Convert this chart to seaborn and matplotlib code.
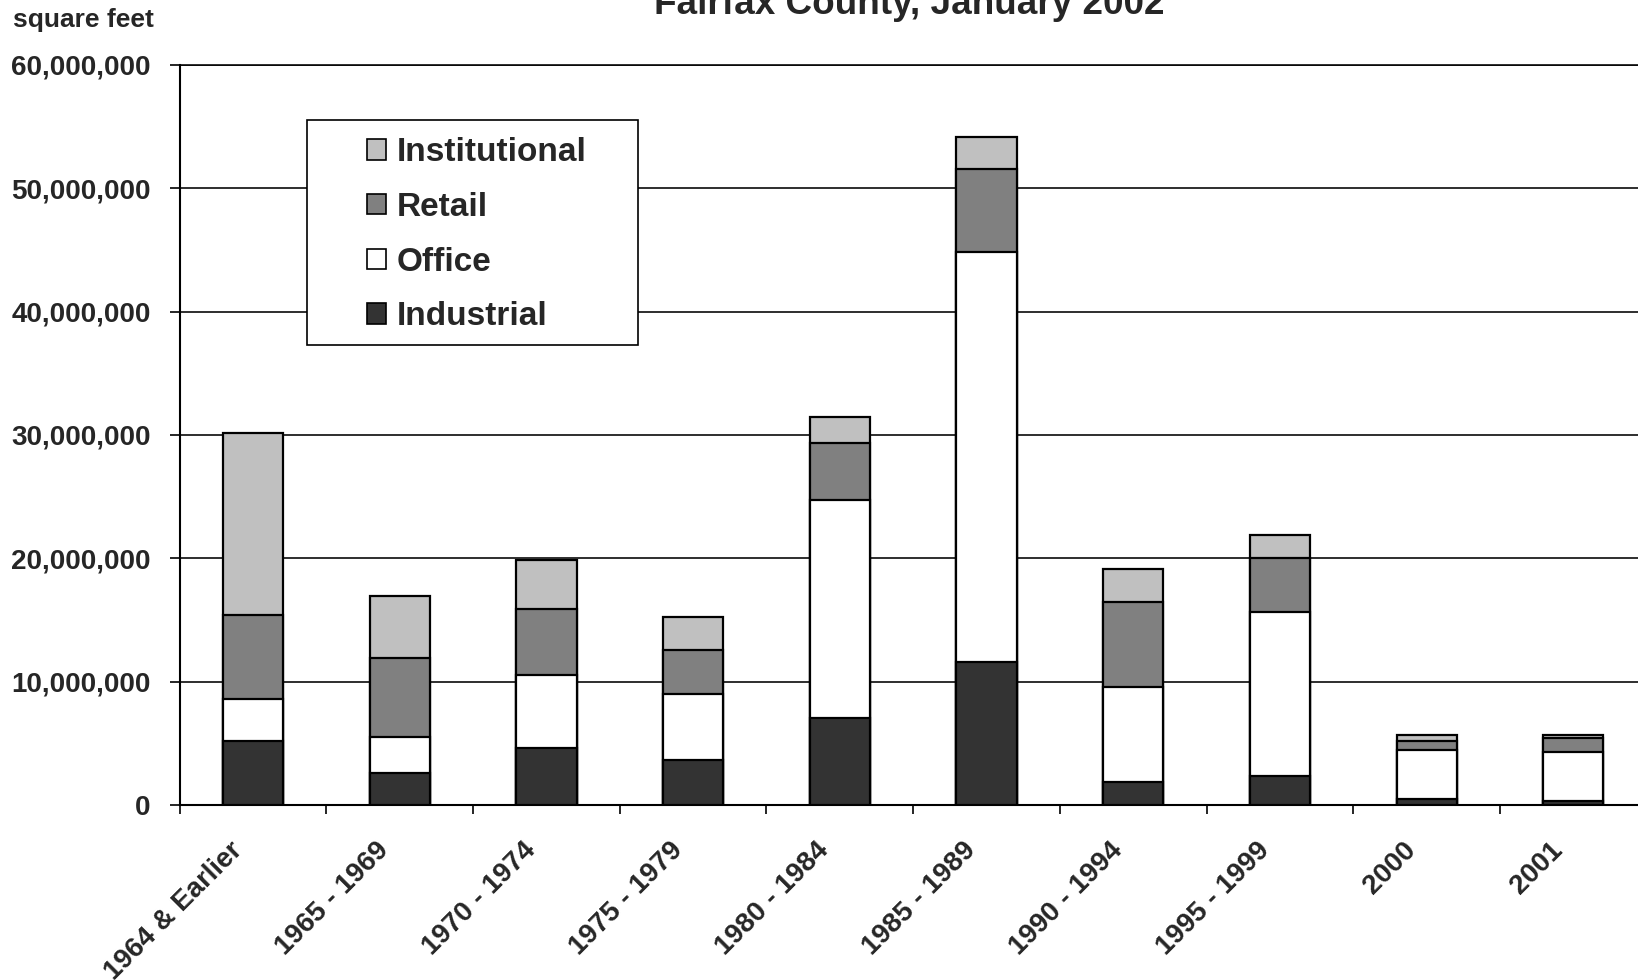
import numpy as np
import pandas as pd
import matplotlib
matplotlib.use("Agg")
import matplotlib.pyplot as plt
from matplotlib.patches import Patch, Rectangle
from matplotlib.ticker import FuncFormatter, FixedLocator
import seaborn as sns

# Non-residential floor area by year built (square feet)
periods = ["1964 & Earlier", "1965 - 1969", "1970 - 1974", "1975 - 1979",
           "1980 - 1984", "1985 - 1989", "1990 - 1994", "1995 - 1999",
           "2000", "2001"]
industrial = [5_190_000, 2_570_000, 4_650_000, 3_620_000, 7_060_000,
              11_560_000, 1_840_000, 2_380_000, 490_000, 350_000]
office = [3_410_000, 2_920_000, 5_870_000, 5_360_000, 17_640_000,
          33_240_000, 7_750_000, 13_270_000, 4_000_000, 3_950_000]
retail = [6_780_000, 6_430_000, 5_380_000, 3_590_000, 4_670_000,
          6_730_000, 6_900_000, 4_350_000, 700_000, 1_160_000]
institutional = [14_820_000, 5_010_000, 3_970_000, 2_650_000, 2_100_000,
                 2_610_000, 2_650_000, 1_920_000, 490_000, 240_000]

series_names = ["Industrial", "Office", "Retail", "Institutional"]
series_values = [industrial, office, retail, institutional]
series_colors = {"Industrial": "#333333", "Office": "#ffffff",
                 "Retail": "#808080", "Institutional": "#c0c0c0"}

title_text = "Fairfax County, January 2002"
unit_text = "square feet"

sns.set_style("white")
plt.rcParams["font.family"] = ["Liberation Sans", "DejaVu Sans"]
plt.rcParams["font.weight"] = "bold"

# Long table with the running top of each stacked segment
rows = []
for name, vals in zip(series_names, series_values):
    for p, v in zip(periods, vals):
        rows.append({"period": p, "type": name, "value": v})
df = pd.DataFrame(rows)
df["type"] = pd.Categorical(df["type"], categories=series_names, ordered=True)
df["period"] = pd.Categorical(df["period"], categories=periods, ordered=True)
df = df.sort_values(["period", "type"])
df["top"] = df.groupby("period", observed=True)["value"].cumsum()

fig = plt.figure(figsize=(16.38, 9.8), dpi=100)
ax = fig.add_axes([0.1097, 0.1786, 0.8956, 0.7551])

# Draw the stacks from the tallest layer down so each segment shows its own band
for name in reversed(series_names):
    layer = df[df["type"] == name]
    sns.barplot(data=layer, x="period", y="top", order=periods,
                color=series_colors[name], saturation=1, width=0.41,
                edgecolor="black", linewidth=1.6, errorbar=None, ax=ax,
                zorder=3)

ax.set_xlim(-0.5, 9.5)
ax.set_ylim(0, 60_000_000)
ax.set_yticks(np.arange(0, 60_000_001, 10_000_000))
ax.yaxis.set_major_formatter(FuncFormatter(lambda v, _: f"{v:,.0f}"))
ax.grid(axis="y", color="black", linewidth=1.15)
ax.grid(axis="x", visible=False)
ax.set_axisbelow(True)

ax.set_xlabel("")
ax.set_ylabel("")
# Category labels sit just left of each slot centre; tick marks go on slot edges
label_pos = np.arange(len(periods)) - 0.1
ax.set_xticks(label_pos)
ax.set_xticklabels(periods, rotation=45, ha="right", va="center",
                   rotation_mode="anchor", fontsize=20, fontweight="bold")
ax.xaxis.set_minor_locator(FixedLocator(np.arange(-0.5, len(periods), 1.0)))
ax.tick_params(axis="x", which="major", length=0, pad=30)
ax.tick_params(axis="x", which="minor", length=6.5, width=1.2,
               direction="out", color="black", bottom=True)
ax.tick_params(axis="y", length=7.2, width=1.2, direction="out",
               color="black", pad=13.8, labelsize=20, left=True)
for lab in ax.get_yticklabels():
    lab.set_fontweight("bold")

for side in ["left", "bottom"]:
    ax.spines[side].set_color("black")
    ax.spines[side].set_linewidth(1.5)
ax.spines["top"].set_color("black")
ax.spines["top"].set_linewidth(1.15)
ax.spines["right"].set_visible(False)

# Legend panel
ax.add_patch(Rectangle((0.0868, 0.6216), 0.2256, 0.3041, transform=ax.transAxes,
                       facecolor="white", edgecolor="black", linewidth=1.2,
                       zorder=4))
handles = [Patch(facecolor=series_colors[n], edgecolor="black", linewidth=1.2,
                 label=n) for n in reversed(series_names)]
ax.legend(handles=handles, loc="upper left", bbox_to_anchor=(0.1277, 0.9022),
          frameon=False, borderpad=0, borderaxespad=0, handlelength=0.57,
          handleheight=0.57, handletextpad=0.33, labelspacing=0.71,
          prop={"size": 24, "weight": "bold"}).set_zorder(5)

fig.text(0.555, 1 - 14 / 980, title_text, ha="center", va="baseline",
         fontsize=26.6, fontweight="bold")
fig.text(13 / 1638, 1 - 27 / 980, unit_text, ha="left", va="baseline",
         fontsize=19, fontweight="bold")

fig.savefig("out.png", dpi=100)
